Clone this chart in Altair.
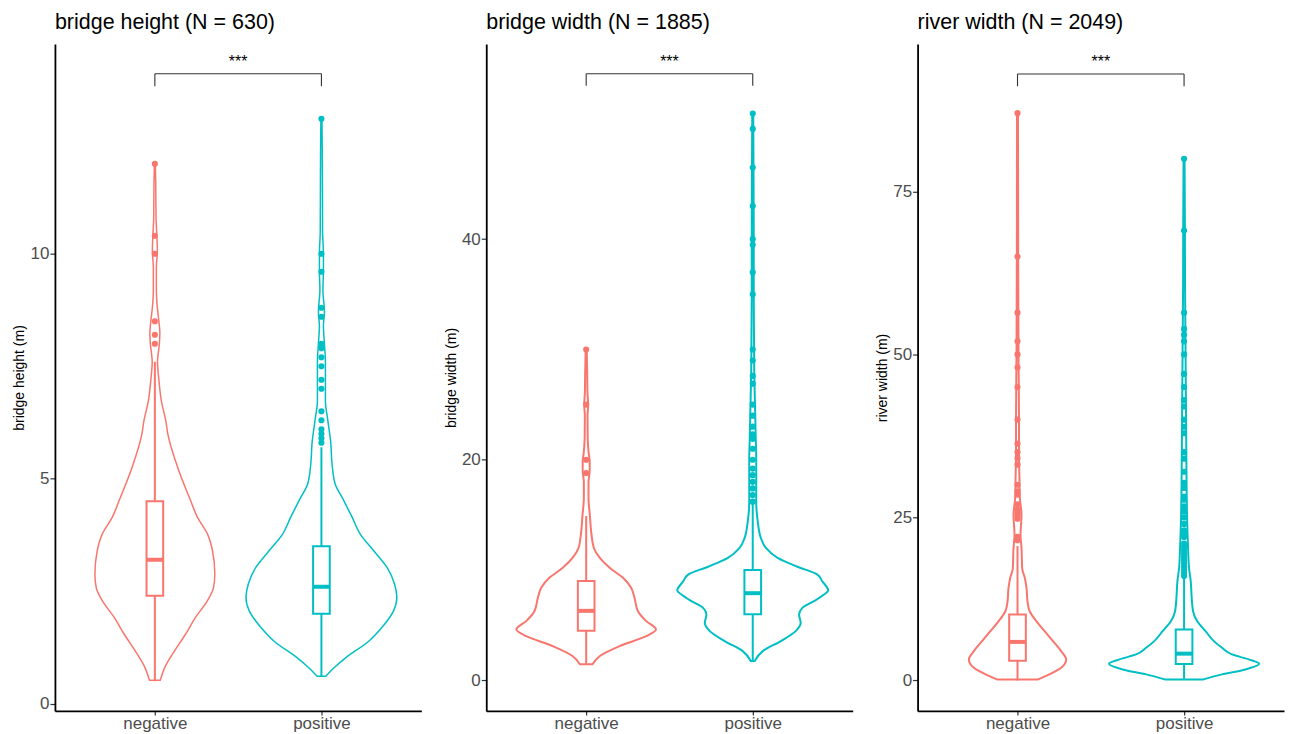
import altair as alt
import pandas as pd

# ---------------- data ----------------
GROUPS = ["negative", "positive"]
COLORS = ["#F8766D", "#00BFC4"]

TITLES = ["bridge height (N = 630)", "bridge width (N = 1885)", "river width (N = 2049)"]
Y_TITLES = ["bridge height (m)", "bridge width (m)", "river width (m)"]
Y_TICKS = [[0, 5, 10], [0, 20, 40], [0, 25, 50, 75]]
Y_DOMAINS = [[-0.16, 14.66], [-2.78, 57.7], [-4.69, 97.6]]

SIG_LABEL = "***"
BRACKET_Y = [14.0, 55.0, 93.0]
BRACKET_TIP = [13.72, 53.92, 91.12]
SIG_Y = [14.15, 55.64, 94.1]

# violin density profiles: value and half width (x units)
P1_NEG_V = [0.52, 0.81, 1.18, 1.55, 1.92, 2.29, 2.58, 2.88, 3.4, 3.77, 4.14, 4.51, 5.25, 5.99, 6.28, 6.73,
            7.2, 7.6, 8.0, 8.25, 8.5, 8.8, 9.2, 9.7, 10.05, 10.4, 10.8, 11.2, 11.6, 12.0]
P1_NEG_W = [0.032, 0.060, 0.119, 0.185, 0.244, 0.316, 0.352, 0.360, 0.346, 0.316, 0.256, 0.215, 0.137, 0.078,
            0.066, 0.039, 0.024, 0.016, 0.027, 0.030, 0.024, 0.015, 0.009, 0.009, 0.015, 0.012, 0.007, 0.006,
            0.005, 0.003]
P1_POS_V = [0.61, 0.80, 1.02, 1.39, 1.70, 2.07, 2.36, 2.66, 3.03, 3.4, 3.77, 4.14, 4.51, 4.88, 5.25, 5.84,
            6.36, 6.73, 7.2, 7.6, 8.0, 8.4, 8.7, 9.2, 9.6, 10.0, 10.5, 11.5, 12.3, 13.0]
P1_POS_W = [0.026, 0.076, 0.145, 0.284, 0.364, 0.434, 0.453, 0.439, 0.394, 0.314, 0.233, 0.185, 0.135, 0.083,
            0.066, 0.055, 0.036, 0.024, 0.024, 0.024, 0.018, 0.012, 0.018, 0.009, 0.012, 0.012, 0.007, 0.006,
            0.005, 0.003]

P2_NEG_V = [1.45, 2.2, 3.1, 4.0, 4.61, 5.37, 6.28, 7.49, 8.39, 9.30, 10.2, 11.1, 12.0, 13.2, 15.0, 16.5,
            18.0, 19.0, 19.8, 20.6, 22.0, 24.0, 25.0, 26.0, 28.0, 30.0]
P2_NEG_W = [0.038, 0.082, 0.201, 0.360, 0.419, 0.360, 0.310, 0.290, 0.270, 0.221, 0.141, 0.082, 0.046,
            0.032, 0.022, 0.014, 0.014, 0.021, 0.021, 0.015, 0.009, 0.008, 0.012, 0.008, 0.006, 0.003]
P2_POS_V = [1.75, 2.65, 3.56, 4.46, 5.21, 5.97, 6.57, 7.18, 7.78, 8.14, 8.99, 9.59, 10.3, 11.1, 12.0, 12.9,
            14.4, 16.2, 18.0, 20.0, 22.0, 24.0, 26.0, 28.0, 30.0, 35.0, 40.0, 45.0, 51.4]
P2_POS_W = [0.012, 0.060, 0.169, 0.258, 0.288, 0.278, 0.298, 0.368, 0.428, 0.453, 0.417, 0.388, 0.268,
            0.149, 0.079, 0.049, 0.030, 0.021, 0.021, 0.021, 0.018, 0.015, 0.012, 0.009, 0.008, 0.006,
            0.006, 0.005, 0.003]

P3_NEG_V = [0.15, 0.92, 1.94, 3.22, 4.49, 6.02, 7.55, 9.08, 10.6, 12.1, 14.2, 15.7, 17.2, 20.3, 22.3, 25.4,
            28.0, 30.5, 35.0, 40.0, 50.0, 65.0, 87.0]
P3_NEG_W = [0.123, 0.191, 0.262, 0.292, 0.262, 0.213, 0.163, 0.113, 0.073, 0.060, 0.054, 0.044, 0.028,
            0.024, 0.018, 0.024, 0.014, 0.012, 0.009, 0.009, 0.006, 0.004, 0.003]
P3_POS_V = [0.15, 0.92, 1.68, 2.55, 3.22, 3.98, 5.0, 6.02, 7.55, 9.08, 10.6, 12.6, 15.2, 17.2, 20.3, 25.0,
            30.0, 40.0, 50.0, 60.0, 70.0, 80.0]
P3_POS_W = [0.116, 0.227, 0.368, 0.451, 0.388, 0.288, 0.228, 0.179, 0.129, 0.079, 0.054, 0.046, 0.040,
            0.030, 0.024, 0.018, 0.015, 0.012, 0.009, 0.006, 0.005, 0.003]

# box statistics: lower whisker, Q1, median, Q3, upper whisker
P1_BOX = [[0.5, 2.4, 3.2, 4.5, 7.6], [0.6, 2.0, 2.6, 3.5, 5.7]]
P2_BOX = [[1.5, 4.5, 6.3, 9.0, 14.9], [1.8, 6.0, 7.9, 10.0, 16.0]]
P3_BOX = [[0.0, 3.0, 5.9, 10.1, 20.6], [0.2, 2.5, 4.1, 7.8, 15.7]]

# outliers
P1_NEG_OUT = [8.0, 8.2, 8.5, 10.0, 10.4, 12.0]
P1_POS_OUT = [5.8, 5.9, 6.0, 6.1, 6.3, 6.5, 7.0, 7.2, 7.5, 7.7, 7.9, 8.0, 8.6, 8.8, 9.6, 10.0, 13.0]
P2_NEG_OUT = [18.8, 20.0, 25.0, 30.0]
P2_POS_OUT = [16.2, 16.8, 17.4, 18.0, 18.6, 19.2, 20.0, 21.0, 21.9, 22.3, 23.0, 24.0, 25.0, 26.9, 27.6,
              29.0, 30.0, 35.0, 37.0, 39.5, 40.0, 43.0, 46.5, 50.0, 51.4]
P3_NEG_OUT = [21.5, 22.0, 24.8, 25.3, 25.7, 26.2, 27.0, 28.5, 29.0, 30.0, 33.1, 34.1, 35.0, 36.3, 40.0,
              45.0, 48.0, 50.0, 52.0, 56.4, 65.0, 87.0]
P3_POS_OUT = [16.0, 16.5, 17.0, 17.5, 18.0, 18.5, 19.0, 19.5, 20.0, 20.5, 21.0, 22.0, 22.5, 23.0, 24.0,
              25.0, 25.9, 26.7, 27.7, 28.2, 29.5, 30.3, 32.0, 34.0, 35.0, 37.9, 38.9, 40.0, 42.0, 43.0,
              45.0, 47.0, 50.0, 52.0, 53.0, 53.9, 56.4, 69.0, 80.0]

PANELS = [
    dict(violin=[(P1_NEG_V, P1_NEG_W), (P1_POS_V, P1_POS_W)], box=P1_BOX, out=[P1_NEG_OUT, P1_POS_OUT], lw=1.5),
    dict(violin=[(P2_NEG_V, P2_NEG_W), (P2_POS_V, P2_POS_W)], box=P2_BOX, out=[P2_NEG_OUT, P2_POS_OUT], lw=2.0),
    dict(violin=[(P3_NEG_V, P3_NEG_W), (P3_POS_V, P3_POS_W)], box=P3_BOX, out=[P3_NEG_OUT, P3_POS_OUT], lw=2.0),
]

# ---------------- build ----------------
FONT = "Liberation Sans"
BOX_HALF = 0.05
W, H = 367, 668
TICK_FONT = 17

color_scale = alt.Scale(domain=GROUPS, range=COLORS)
label_expr = f"datum.value == 1 ? '{GROUPS[0]}' : '{GROUPS[1]}'"


def make_panel(i):
    p = PANELS[i]
    vrows, brows, orows = [], [], []
    for g, grp in enumerate(GROUPS):
        c = g + 1
        vals, hws = p["violin"][g]
        for v, w in zip(vals, hws):
            vrows.append(dict(group=grp, v=v, left=c - w, right=c + w))
        lo, q1, med, q3, up = p["box"][g]
        brows.append(dict(group=grp, x=c, xl=c - BOX_HALF, xr=c + BOX_HALF,
                          lower=lo, q1=q1, med=med, q3=q3, upper=up))
        for o in p["out"][g]:
            orows.append(dict(group=grp, x=c, v=o))
    vdf = pd.DataFrame(vrows)
    bdf = pd.DataFrame(brows)
    odf = pd.DataFrame(orows)
    seg = pd.DataFrame(dict(
        x=[1, 1, 2], x2=[2, 1, 2],
        y=[BRACKET_Y[i], BRACKET_TIP[i], BRACKET_TIP[i]],
        y2=[BRACKET_Y[i], BRACKET_Y[i], BRACKET_Y[i]],
    ))
    sig = pd.DataFrame(dict(x=[1.5], y=[SIG_Y[i]], t=[SIG_LABEL]))

    xscale = alt.Scale(domain=[0.4, 2.6], nice=False, zero=False)
    yscale = alt.Scale(domain=Y_DOMAINS[i], nice=False, zero=False)
    xaxis = alt.Axis(values=[1, 2], labelExpr=label_expr, grid=False, title=None,
                     domainColor="black", domainWidth=1.8, tickColor="#333333", tickWidth=1.2,
                     tickSize=4, labelFontSize=TICK_FONT, labelColor="#4D4D4D", labelPadding=1,
                     labelFlush=False, labelFont=FONT)
    yaxis = alt.Axis(values=Y_TICKS[i], grid=False, title=Y_TITLES[i],
                     domainColor="black", domainWidth=1.8, tickColor="#333333", tickWidth=1.2,
                     tickSize=5, labelFontSize=TICK_FONT, labelColor="#4D4D4D", labelPadding=1,
                     labelFont=FONT, titleFont=FONT, titleFontSize=14, titleFontWeight="normal",
                     titleColor="black", titlePadding=3.2, labelFlush=False)

    violin = alt.Chart(vdf).mark_area(orient="horizontal", interpolate="monotone",
                                      fillOpacity=0, strokeWidth=p["lw"]).encode(
        y=alt.Y("v:Q", scale=yscale, axis=yaxis),
        x=alt.X("left:Q", scale=xscale, axis=xaxis),
        x2="right:Q",
        stroke=alt.Stroke("group:N", scale=color_scale, legend=None),
    )
    whisk_lo = alt.Chart(bdf).mark_rule(strokeWidth=2).encode(
        x="x:Q", y="lower:Q", y2="q1:Q",
        color=alt.Color("group:N", scale=color_scale, legend=None))
    whisk_hi = alt.Chart(bdf).mark_rule(strokeWidth=2).encode(
        x="x:Q", y="q3:Q", y2="upper:Q",
        color=alt.Color("group:N", scale=color_scale, legend=None))
    box = alt.Chart(bdf).mark_rect(fill="white", strokeWidth=2).encode(
        x="xl:Q", x2="xr:Q", y="q1:Q", y2="q3:Q",
        stroke=alt.Stroke("group:N", scale=color_scale, legend=None))
    median = alt.Chart(bdf).mark_rule(strokeWidth=4).encode(
        x="xl:Q", x2="xr:Q", y="med:Q",
        color=alt.Color("group:N", scale=color_scale, legend=None))
    pts = alt.Chart(odf).mark_circle(size=38, opacity=1).encode(
        x="x:Q", y="v:Q",
        color=alt.Color("group:N", scale=color_scale, legend=None))
    bracket = alt.Chart(seg).mark_rule(color="#333333", strokeWidth=1.1).encode(
        x="x:Q", x2="x2:Q", y="y:Q", y2="y2:Q")
    stars = alt.Chart(sig).mark_text(fontSize=16, baseline="alphabetic", align="center",
                                     color="black", font=FONT).encode(
        x="x:Q", y="y:Q", text="t:N")

    return alt.layer(violin, whisk_lo, whisk_hi, box, median, pts, bracket, stars).properties(
        width=W, height=H,
        title=alt.TitleParams(text=TITLES[i], anchor="start", frame="group", fontSize=21.5,
                              fontWeight="normal", color="black", font=FONT, offset=-6.4,
                              baseline="alphabetic"),
    )


chart = alt.hconcat(*[make_panel(i) for i in range(3)], spacing=21).properties(
    padding={"left": 4, "top": 2.5, "right": 0, "bottom": 0}
).configure(font=FONT).configure_view(stroke="transparent")

chart.save("out.html", embed_options={"renderer": "svg", "actions": False})
